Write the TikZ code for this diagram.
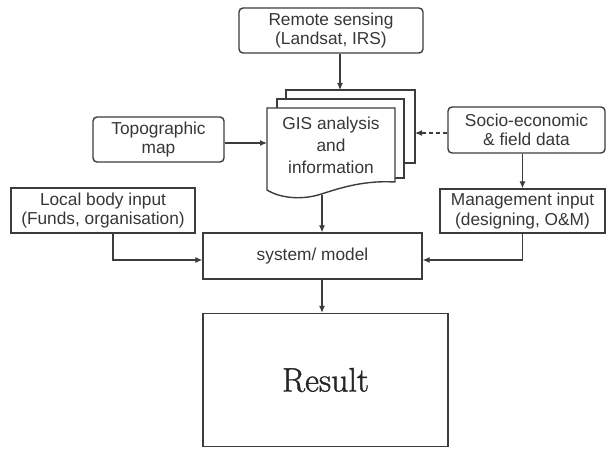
\documentclass[tikz,border=0pt]{standalone}
\usepackage{fontspec}
\setmainfont{Liberation Sans}
\newfontfamily\lmfont[FakeBold=1.2]{Latin Modern Roman}
\usetikzlibrary{arrows.meta,calc}
\definecolor{txt}{RGB}{55,55,55}
\definecolor{ln}{RGB}{60,60,60}
\begin{document}
\begin{tikzpicture}[x=1pt,y=-1pt,
  box/.style={draw=ln,line width=1.4pt,fill=white,align=center,inner sep=0pt,text=txt,
    font=\fontsize{17.3}{19.5}\selectfont},
  rbox/.style={box,rounded corners=4pt},
  arr/.style={draw=ln,line width=1.1pt,-{Latex[length=7pt,width=6pt]}},
  sheet/.style={draw=ln,line width=1.4pt,fill=white}]
\useasboundingbox (0,0) rectangle (609,449);
% nodes
\node[rbox,minimum width=184pt,minimum height=45pt] (remote) at (331,30.5) {Remote sensing\\(Landsat, IRS)};
\node[rbox,minimum width=131pt,minimum height=45pt] (topo) at (158.5,139.5) {Topographic\\map};
\node[rbox,minimum width=157pt,minimum height=46pt] (socio) at (526.5,130) {Socio-economic\\\& field data};
\node[box,minimum width=184pt,minimum height=45pt] (local) at (103,210.5) {Local body input\\(Funds, organisation)};
\node[box,minimum width=165pt,minimum height=44pt] (mgmt) at (522.5,211) {Management input\\(designing, O\&M)};
\node[box,minimum width=219pt,minimum height=46pt] (system) at (312.5,256) {system/ model};
\node[box,minimum width=245pt,minimum height=133pt,font=\lmfont\fontsize{34}{40}\selectfont,text=black!85] (result) at (325.5,380) {Result};
% GIS stacked document
\draw[sheet] (286,90) rectangle (415,163);
\draw[sheet] (277,99) rectangle (404,178);
\draw[sheet] (267,108) -- (395,108) -- (395,182)
  .. controls (360,180) and (335,190) .. (318,195)
  .. controls (300,200) and (280,198) .. (267,190) -- cycle;
\node[align=center,text=txt,font=\fontsize{17.3}{22}\selectfont,inner sep=0pt] (gis) at (331,145) {GIS analysis\\and\\information};
\coordinate (gisin) at (340,90);
\coordinate (gisleft) at (267,143);
\coordinate (gisright) at (415,133);
\coordinate (gisout) at (322,195);
% connectors
\draw[arr] (remote.south -| gisin) -- (gisin);
\draw[arr] (topo.east |- gisleft) -- (gisleft);
\draw[arr,dashed,dash pattern=on 4pt off 3pt] (socio.west |- gisright) -- (gisright);
\draw[arr] (mgmt.north |- socio.south) -- (mgmt.north);
\draw[arr] (gisout) -- (gisout |- system.north);
\draw[arr] ($(local.south)+(10,0)$) |- ($(system.west)+(0,4)$);
\draw[arr] (mgmt.south) |- ($(system.east)+(0,4)$);
\draw[arr] (system.south -| gisout) -- (result.north -| gisout);
\end{tikzpicture}
\end{document}
